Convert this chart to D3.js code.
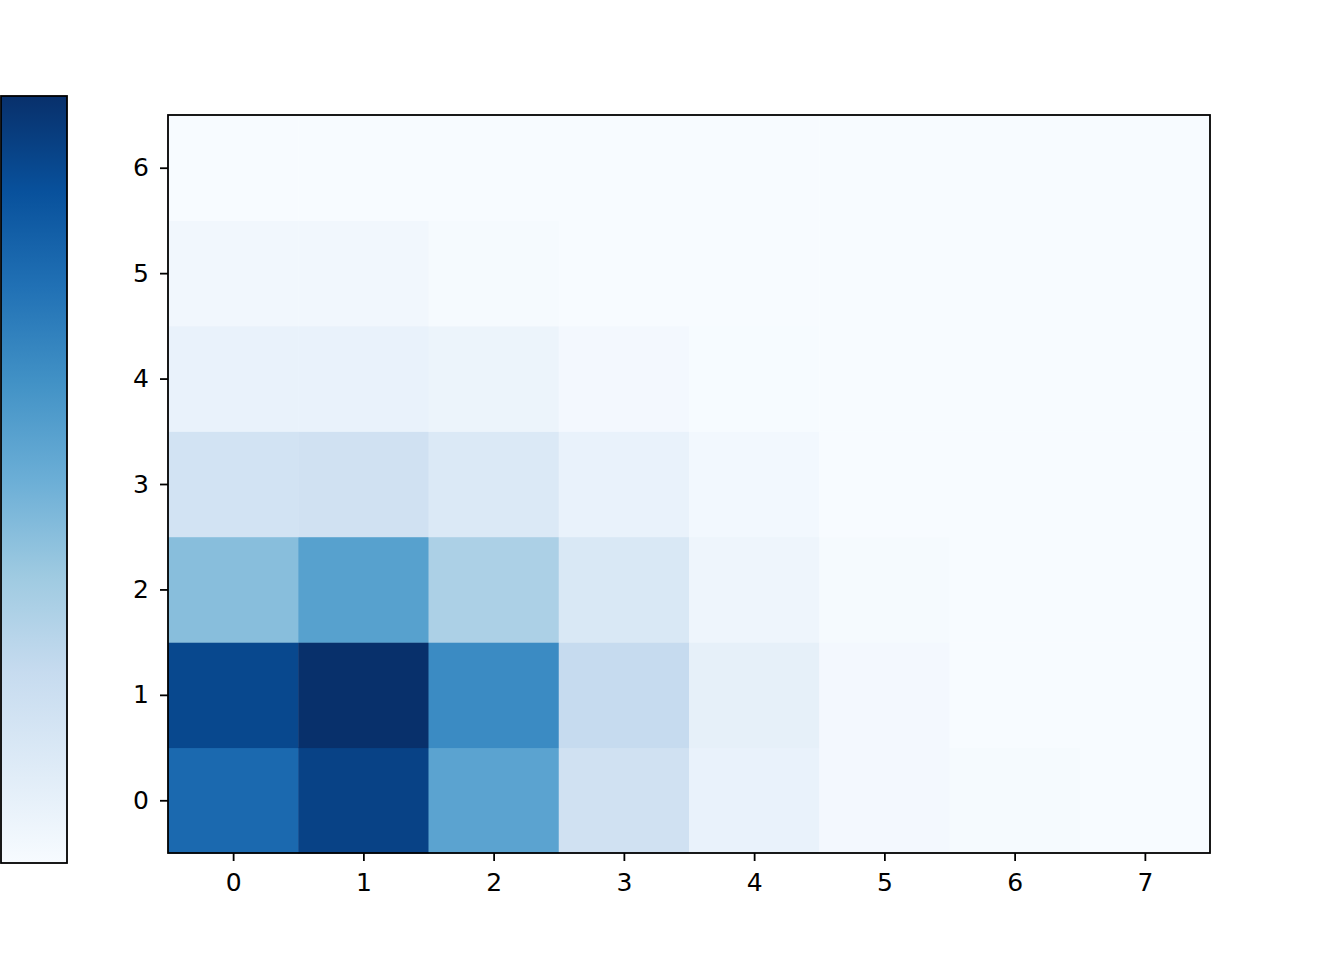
<!DOCTYPE html>
<html>
<head>
<meta charset="utf-8">
<script src="https://cdn.jsdelivr.net/npm/d3@7"></script>
<style>
  html, body { margin: 0; padding: 0; background: #fff; }
  svg { display: block; }
  text { font-family: "DejaVu Sans", sans-serif; }
</style>
</head>
<body>
<svg id="chart" width="1344" height="960"></svg>
<script>
// ---- data (normalized intensity, rows = y 0..6, cols = x 0..7) ----
const xCategories = [0, 1, 2, 3, 4, 5, 6, 7];
const yCategories = [0, 1, 2, 3, 4, 5, 6];
const row0 = [0.78, 0.93, 0.55, 0.20, 0.07, 0.020, 0.008, 0.0];
const row1 = [0.91, 1.00, 0.65, 0.25, 0.086, 0.020, 0.001, 0.0];
const row2 = [0.43, 0.56, 0.33, 0.15, 0.047, 0.010, 0.0, 0.0];
const row3 = [0.19, 0.20, 0.14, 0.07, 0.023, 0.002, 0.0, 0.0];
const row4 = [0.07, 0.07, 0.055, 0.02, 0.003, 0.0, 0.0, 0.0];
const row5 = [0.03, 0.028, 0.01, 0.002, 0.0, 0.0, 0.0, 0.0];
const row6 = [0.002, 0.002, 0.001, 0.0, 0.0, 0.0, 0.0, 0.0];
const rows = [row0, row1, row2, row3, row4, row5, row6];
const xTickLabels = ["0", "1", "2", "3", "4", "5", "6", "7"];
const yTickLabels = ["0", "1", "2", "3", "4", "5", "6"];

// matplotlib "Blues" stops
const bluesStops = ["#f7fbff","#deebf7","#c6dbef","#9ecae1","#6baed6","#4292c6","#2171b5","#08519c","#08306b"];

const svg = d3.select("#chart");
const plot = { left: 168, right: 1210, top: 115, bottom: 853 };

const cells = [];
rows.forEach((r, yi) => r.forEach((v, xi) => cells.push({ x: xCategories[xi], y: yCategories[yi], v })));
const vMin = d3.min(cells, d => d.v), vMax = d3.max(cells, d => d.v);

const color = d3.scaleLinear()
  .domain(bluesStops.map((_, i) => vMin + (vMax - vMin) * i / (bluesStops.length - 1)))
  .range(bluesStops)
  .interpolate(d3.interpolateRgb)
  .clamp(true);

const x = d3.scaleLinear().domain([-0.5, xCategories.length - 0.5]).range([plot.left, plot.right]);
const y = d3.scaleLinear().domain([-0.5, yCategories.length - 0.5]).range([plot.bottom, plot.top]);

// cells
svg.append("g").selectAll("rect").data(cells).join("rect")
  .attr("x", d => x(d.x - 0.5))
  .attr("y", d => y(d.y + 0.5))
  .attr("width", d => x(d.x + 0.5) - x(d.x - 0.5) + 0.5)
  .attr("height", d => y(d.y - 0.5) - y(d.y + 0.5) + 0.5)
  .attr("fill", d => color(d.v));

// frame
svg.append("rect")
  .attr("x", plot.left).attr("y", plot.top)
  .attr("width", plot.right - plot.left).attr("height", plot.bottom - plot.top)
  .attr("fill", "none").attr("stroke", "#000").attr("stroke-width", 1.8);

// axes
const xAxis = d3.axisBottom(x).tickValues(xCategories).tickFormat((d, i) => xTickLabels[i])
  .tickSize(8).tickPadding(12);
const yAxis = d3.axisLeft(y).tickValues(yCategories).tickFormat((d, i) => yTickLabels[i])
  .tickSize(8).tickPadding(11);

const gx = svg.append("g").attr("transform", `translate(0,${plot.bottom})`).call(xAxis);
const gy = svg.append("g").attr("transform", `translate(${plot.left},0)`).call(yAxis);
[gx, gy].forEach(g => {
  g.attr("font-size", null).attr("font-family", null);
  g.select(".domain").remove();
  g.selectAll(".tick line").attr("stroke", "#000").attr("stroke-width", 1.8);
  g.selectAll(".tick text").attr("fill", "#000").style("font-size", "25px")
    .style("font-family", "'DejaVu Sans', sans-serif");
});

// colorbar
const cb = { left: 1, right: 67, top: 96, bottom: 863 };
const defs = svg.append("defs");
const grad = defs.append("linearGradient").attr("id", "cbgrad")
  .attr("x1", 0).attr("y1", 1).attr("x2", 0).attr("y2", 0);
bluesStops.forEach((c, i) => grad.append("stop")
  .attr("offset", i / (bluesStops.length - 1)).attr("stop-color", c));
svg.append("rect")
  .attr("x", cb.left).attr("y", cb.top)
  .attr("width", cb.right - cb.left).attr("height", cb.bottom - cb.top)
  .attr("fill", "url(#cbgrad)")
  .attr("stroke", "#000").attr("stroke-width", 1.8);
</script>
</body>
</html>
